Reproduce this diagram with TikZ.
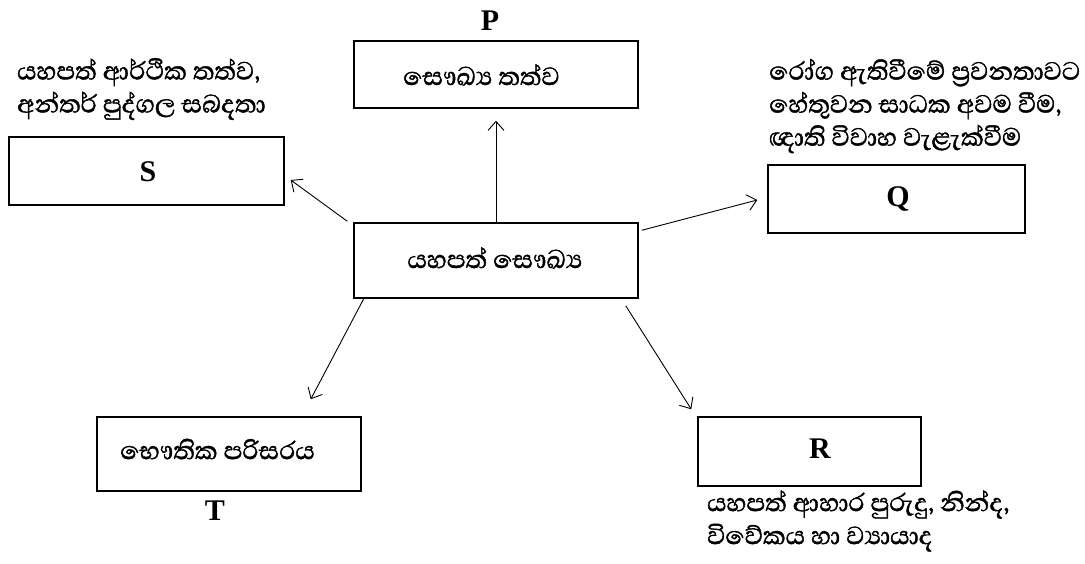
\documentclass[tikz,border=0pt]{standalone}
\usepackage{fontspec}
\setmainfont{Liberation Serif}
\newfontfamily\sinhfont[Script=Sinhala,FakeBold=1.4]{Abhaya Libre}
\usetikzlibrary{arrows.meta,calc}
\begin{document}
\begin{tikzpicture}[x=1pt,y=-1pt,
  box/.style={draw,line width=1.5pt,inner sep=0pt},
  arr/.style={-{Straight Barb[length=9pt,width=16pt]},line width=0.9pt},
  lbl/.style={font=\fontsize{30}{30}\selectfont\bfseries,inner sep=0pt},
  sin/.style={font=\sinhfont\fontsize{32}{33}\selectfont,align=left,inner sep=0pt}]
\useasboundingbox[fill=white] (0,0) rectangle (1085,563);
% boxes
\node[box,minimum width=284pt,minimum height=67pt] (p) at (496,74.5) {};
\node[box,minimum width=284pt,minimum height=75pt] (c) at (496,260.5) {};
\node[box,minimum width=275pt,minimum height=68pt] (s) at (146.5,171) {};
\node[box,minimum width=257pt,minimum height=68pt] (q) at (896.5,199) {};
\node[box,minimum width=264pt,minimum height=74pt] (t) at (229,454) {};
\node[box,minimum width=223pt,minimum height=69pt] (r) at (809.5,451.5) {};
% box texts
\node[sin,anchor=west] (ptext) at (403,75) {සෞඛ්‍ය තත්ව};
\node[sin] (ctext) at (495,258) {යහපත් සෞඛ්‍ය};
\node[sin,anchor=west] (ttext) at (120,449) {භෞතික පරිසරය};
% letters
\node[lbl] (pl) at (490,21) {P};
\node[lbl] (sl) at (148,172) {S};
\node[lbl] (ql) at (898,199) {Q};
\node[lbl] (rl) at (820,449) {R};
\node[lbl] (tl) at (215,511) {T};
% outside texts
\node[sin,anchor=west] (stext) at (17,89) {යහපත් ආර්ථික තත්ව,\\අන්තර් පුද්ගල සබදතා};
\node[sin,anchor=west] (qtext) at (769,106) {රෝග ඇතිවීමේ ප්‍රවනතාවට\\හේතුවන සාධක අවම වීම,\\ඥාති විවාහ වැළැක්වීම};
\node[sin,anchor=west] (rtext) at (707,521) {යහපත් ආහාර පුරුදු, නින්ද,\\විවේකය හා ව්‍යායාද};
% arrows
\draw[arr,shorten >=12pt] (c.north) -- (p.south);
\draw[arr] ($(c.north west)+(-6,-1)$) -- ($(s.east)+(6,9)$);
\draw[arr] ($(c.north east)+(3,8)$) -- ($(q.west)+(-10,1)$);
\draw[arr] ($(c.south west)+(11,-1)$) -- ($(t.north east)+(-51,-17)$);
\draw[arr] ($(c.south east)+(-13,7)$) -- ($(r.north west)+(-6,-7)$);
\end{tikzpicture}
\end{document}
